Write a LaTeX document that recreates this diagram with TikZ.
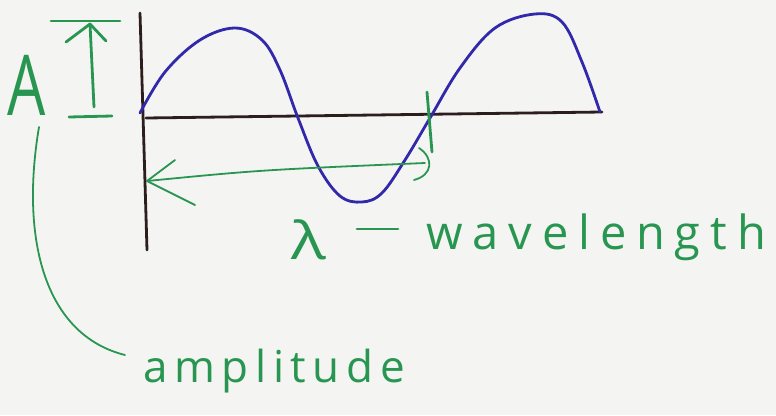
\documentclass[tikz,border=0pt]{standalone}
\usepackage{fontspec}
\setmainfont{Open Sans}
\definecolor{paper}{RGB}{244,244,242}
\definecolor{ink}{RGB}{40,150,80}
\definecolor{wave}{RGB}{50,40,170}
\definecolor{axis}{RGB}{45,30,30}
\begin{document}
\begin{tikzpicture}[x=1pt,y=-1pt,
  pen/.style={line width=2.8pt, line cap=round, line join=round},
  thinpen/.style={line width=1.8pt, line cap=round, line join=round},
  hand/.style={text=ink, inner sep=0pt}]
\useasboundingbox (0,0) rectangle (776,415);
\fill[paper] (0,0) rectangle (776,415);
% axes
\coordinate (vtop) at (140,13);
\coordinate (vbot) at (147,250);
\coordinate (hl) at (146,118);
\coordinate (hr) at (602,112);
\draw[pen,axis] (vtop) -- (vbot);
\draw[pen,axis] (hl) -- (hr);
% sine wave
\draw[pen,wave] plot[smooth,tension=0.6] coordinates {(140,113) (165,72) (200,40) (235,28) (262,40) (280,70) (298,118) (318,166) (340,196) (362,202) (382,193) (405,160) (430,118) (460,68) (495,28) (535,14) (562,22) (582,62) (600,112)};
% amplitude marker
\coordinate (at1) at (51,21); \coordinate (at2) at (120,21);
\coordinate (ab1) at (69,117); \coordinate (ab2) at (112,116);
\coordinate (atip) at (90,24); \coordinate (abase) at (94,107);
\draw[pen,ink] (at1) -- (at2);
\draw[pen,ink] (ab1) -- (ab2);
\draw[pen,ink] (abase) -- (atip);
\draw[pen,ink] (66,42) -- (atip) -- (106,41);
\node[hand, font=\fontsize{84}{84}\selectfont, xscale=0.72, anchor=base] (A) at (27,115) {A};
% leader to amplitude
\coordinate (l1) at (39,127);
\coordinate (l2) at (125,355);
\draw[thinpen,ink] (l1) .. controls (20,240) and (45,335) .. (l2);
\node[hand, font=\fontsize{44}{44}\selectfont, anchor=base west] (amp) at (143,382) {\addfontfeatures{LetterSpace=15}amplitude};
% wavelength marker
\coordinate (t1) at (427,92); \coordinate (t2) at (432,152);
\draw[pen,ink] (t1) -- (t2);
\coordinate (wtip) at (147,181);
\coordinate (wend) at (425,163);
\draw[thinpen,ink] (wtip) .. controls (260,170) .. (wend);
\draw[thinpen,ink] (175,160) -- (wtip) -- (195,205);
\draw[thinpen,ink] (419,148) .. controls (434,158) and (433,175) .. (414,180);
\node[hand, font=\fontsize{52}{52}\selectfont, xscale=1.25, anchor=base west] (lam) at (291,259) {λ};
\coordinate (d1) at (357,229); \coordinate (d2) at (398,229);
\draw[pen,ink] (d1) -- (d2);
\node[hand, font=\fontsize{47}{47}\selectfont, anchor=base west] (wl) at (426,249) {\addfontfeatures{LetterSpace=21}wavelength};
\end{tikzpicture}
\end{document}
